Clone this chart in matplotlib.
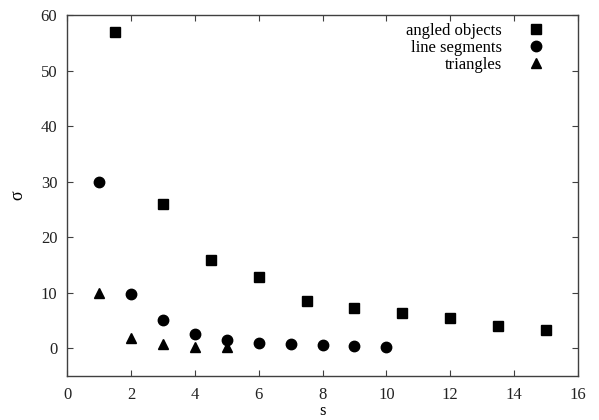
import matplotlib
matplotlib.use('Agg')
import matplotlib.pyplot as plt

plt.rcParams['font.family'] = ['Liberation Serif', 'DejaVu Serif']
plt.rcParams['font.size'] = 12

# ==== data
angled_x = [1.5, 3, 4.5, 6, 7.5, 9, 10.5, 12, 13.5, 15]
angled_y = [57.0, 26.0, 15.8, 12.9, 8.5, 7.3, 6.3, 5.4, 4.0, 3.2]

segments_x = [1, 2, 3, 4, 5, 6, 7, 8, 9, 10]
segments_y = [30.0, 9.7, 5.0, 2.6, 1.4, 1.0, 0.8, 0.6, 0.4, 0.25]

triangles_x = [1, 2, 3, 4, 5]
triangles_y = [9.9, 1.9, 0.8, 0.3, 0.2]

xticks = [0, 2, 4, 6, 8, 10, 12, 14, 16]
yticks = [0, 10, 20, 30, 40, 50, 60]

fig = plt.figure(figsize=(5.99, 4.2), dpi=100)
ax = fig.add_axes([67 / 599, 44 / 420, 511 / 599, 361 / 420])

ax.plot(angled_x, angled_y, 's', color='black', ms=7.5, ls='none', label='angled objects')
ax.plot(segments_x, segments_y, 'o', color='black', ms=7.5, ls='none', label='line segments')
ax.plot(triangles_x, triangles_y, '^', color='black', ms=6.5, ls='none', label='triangles')

ax.set_xlim(0, 16)
ax.set_ylim(-5, 60)
ax.set_xticks(xticks)
ax.set_yticks(yticks)

edge = '#404040'
for sp in ax.spines.values():
    sp.set_color(edge)
    sp.set_linewidth(1.0)
ax.tick_params(direction='in', top=True, right=True, length=4.5, width=0.8,
               color=edge, labelcolor='#222222')
ax.tick_params(axis='x', pad=8)
ax.tick_params(axis='y', pad=7)

ax.set_xlabel('s', labelpad=0)
ax.set_ylabel('σ', labelpad=10, fontsize=13)

# legend: text on the left, marker on the right (gnuplot style)
leg = ax.legend(loc='upper right', bbox_to_anchor=(0.950, 0.978), frameon=False,
                markerfirst=False, borderaxespad=0, borderpad=0,
                handlelength=2.0, handletextpad=1.04, labelspacing=0.05)

fig.savefig('out.png', dpi=100)
